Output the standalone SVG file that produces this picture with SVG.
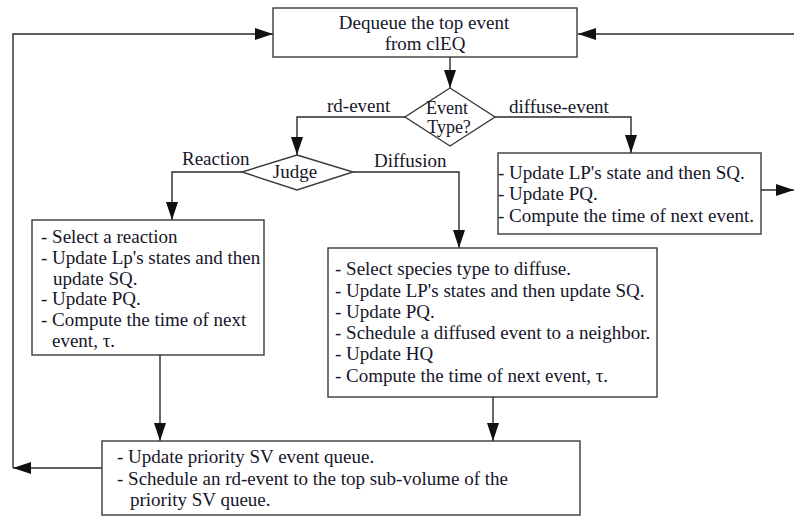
<svg xmlns="http://www.w3.org/2000/svg" width="794" height="516" viewBox="0 0 794 516">
<style>
.box{fill:#fff;stroke:#3a3a3a;stroke-width:1.4}
.ln{fill:none;stroke:#2a2a2a;stroke-width:1.4}
text{font-family:"Liberation Serif","Times New Roman",serif;font-size:19px;fill:#16162a}
.c{text-anchor:middle}
</style>
<defs>
<marker id="ah" markerUnits="userSpaceOnUse" markerWidth="18" markerHeight="12" refX="18" refY="6" orient="auto" viewBox="0 0 18 12">
<path d="M0,0 L18,6 L0,12 z" fill="#111"/>
</marker>
</defs>
<rect width="794" height="516" fill="#fff"/>
<g id="connectors">
<path class="ln" d="M450,57 V88" marker-end="url(#ah)"/>
<path class="ln" d="M405,117 H297 V155" marker-end="url(#ah)"/>
<path class="ln" d="M495,117 H631 V153" marker-end="url(#ah)"/>
<path class="ln" d="M242,172 H172 V220" marker-end="url(#ah)"/>
<path class="ln" d="M353,172 H459 V248" marker-end="url(#ah)"/>
<path class="ln" d="M160,355 V441" marker-end="url(#ah)"/>
<path class="ln" d="M493,397 V441" marker-end="url(#ah)"/>
<path class="ln" d="M102,468 H13" marker-end="url(#ah)"/>
<path class="ln" d="M13,468 V34 H273" marker-end="url(#ah)"/>
<path class="ln" d="M794,34 H578" marker-end="url(#ah)"/>
<path class="ln" d="M761,190 H794" marker-end="url(#ah)"/>
<text x="327" y="112">rd-event</text>
<text x="509" y="113">diffuse-event</text>
<text x="182" y="165">Reaction</text>
<text x="374" y="167">Diffusion</text>
</g>
<g id="dequeue">
<rect class="box" x="273" y="8" width="304" height="49"/>
<text class="c" x="424" y="29">Dequeue the top event</text>
<text class="c" x="425" y="50">from clEQ</text>
</g>
<g id="event-type">
<polygon class="box" points="450,88 495,117 450,146 405,117"/>
<text class="c" x="447" y="114" style="font-size:18px">Event</text>
<text class="c" x="449" y="133" style="font-size:18px">Type?</text>
</g>
<g id="judge">
<polygon class="box" points="297,155 353,172 297,190 242,172"/>
<text class="c" x="295" y="178">Judge</text>
</g>
<g id="diffuse-box">
<rect class="box" x="498" y="153" width="263" height="81"/>
<text x="498" y="179">- Update LP's state and then SQ.</text>
<text x="498" y="200">- Update PQ.</text>
<text x="498" y="222">- Compute the time of next event.</text>
</g>
<g id="reaction-box">
<rect class="box" x="32" y="220" width="232" height="135"/>
<text x="41" y="243">- Select a reaction</text>
<text x="41" y="264">- Update Lp's states and then</text>
<text x="53" y="285">update SQ.</text>
<text x="41" y="305">- Update PQ.</text>
<text x="41" y="326">- Compute the time of next</text>
<text x="52" y="347">event, τ.</text>
</g>
<g id="diffusion-box">
<rect class="box" x="328" y="248" width="329" height="149"/>
<text x="335" y="275">- Select species type to diffuse.</text>
<text x="335" y="297">- Update LP's states and then update SQ.</text>
<text x="335" y="318">- Update PQ.</text>
<text x="335" y="339">- Schedule a diffused event to a neighbor.</text>
<text x="335" y="360">- Update HQ</text>
<text x="335" y="382">- Compute the time of next event, τ.</text>
</g>
<g id="update-box">
<rect class="box" x="102" y="441" width="478" height="74"/>
<text x="117" y="463">- Update priority SV event queue.</text>
<text x="117" y="485">- Schedule an rd-event to the top sub-volume of the</text>
<text x="130" y="506">priority SV queue.</text>
</g>
</svg>
